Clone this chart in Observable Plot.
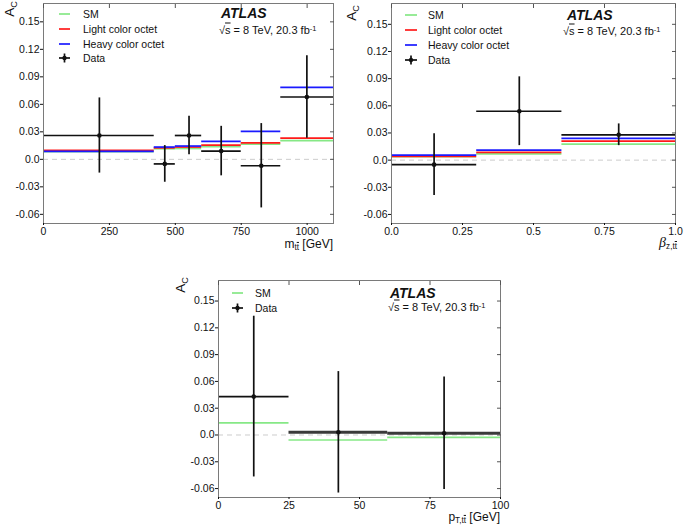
<!DOCTYPE html>
<html><head><meta charset="utf-8">
<script src="https://cdn.jsdelivr.net/npm/d3@7"></script>
<script src="https://cdn.jsdelivr.net/npm/@observablehq/plot@0.6"></script>
<style>
body{margin:0;background:#fff;}
#wrap{position:relative;width:685px;height:525px;overflow:hidden;font-family:"Liberation Sans",Arial,Helvetica,sans-serif;color:#111;}
.abs{position:absolute;white-space:nowrap;line-height:1;}
.sb{font-size:0.68em;position:relative;top:0.3em;}
.sp{font-size:0.68em;position:relative;top:-0.45em;}
.ol{text-decoration:overline;}
</style></head><body><div id="wrap"></div>
<script>
// ---- data: m_tt ----
const mttEdges = [0, 420, 500, 600, 750, 900, 1100];
const mttCenters = [212, 460, 552, 674, 826, 999];
const mttData = [0.026, -0.005, 0.026, 0.009, -0.007, 0.068];
const mttErr = [0.041, 0.020, 0.021, 0.027, 0.046, 0.045];
const mttSM = [0.0085, 0.0115, 0.0118, 0.0138, 0.0165, 0.0205];
const mttLight = [0.0098, 0.0125, 0.0134, 0.0155, 0.0180, 0.0232];
const mttHeavy = [0.0086, 0.0134, 0.0145, 0.0196, 0.0305, 0.0786];
const mttTicks = [0, 250, 500, 750, 1000];
const mttTickLabels = ["0", "250", "500", "750", "1000"];

// ---- data: beta_z,tt ----
const betaEdges = [0, 0.3, 0.6, 1.0];
const betaCenters = [0.15, 0.45, 0.80];
const betaData = [-0.005, 0.054, 0.028];
const betaErr = [0.034, 0.038, 0.012];
const betaSM = [0.0038, 0.0068, 0.0176];
const betaLight = [0.0041, 0.0085, 0.0210];
const betaHeavy = [0.0055, 0.0110, 0.0240];
const betaTicks = [0, 0.25, 0.5, 0.75, 1.0];
const betaTickLabels = ["0.0", "0.25", "0.5", "0.75", "1.0"];

// ---- data: pT,tt ----
const ptEdges = [0, 25, 60, 100];
const ptCenters = [12.5, 42.5, 80];
const ptData = [0.043, 0.003, 0.002];
const ptErr = [0.090, 0.068, 0.063];
const ptSM = [0.0135, -0.0056, -0.0027];
const ptTicks = [0, 25, 50, 75, 100];
const ptTickLabels = ["0", "25", "50", "75", "100"];

// ---- y axis ----
const acTicks = [-0.06, -0.03, 0, 0.03, 0.06, 0.09, 0.12, 0.15];
const acTickLabels = ["-0.06", "-0.03", "0.0", "0.03", "0.06", "0.09", "0.12", "0.15"];

const colSM = "#86e886", colLight = "#ff1a1a", colHeavy = "#1a1aff", colData = "#111";

const wrap = document.getElementById("wrap");

function drawPanel(o) {
  const bins = o.values.map((v, i) => ({lo: o.edges[i], hi: o.edges[i + 1], xc: o.centers[i], v, e: o.errors[i], i}));
  const marks = [Plot.ruleY([0], {stroke: "#cccccc", strokeDasharray: "5,4", strokeWidth: 1})];
  o.models.forEach(m => {
    const segs = m.values.map((v, i) => ({lo: o.edges[i], hi: o.edges[i + 1], v}));
    marks.push(Plot.ruleY(segs, {y: "v", x1: "lo", x2: "hi", stroke: m.color, strokeWidth: 1.7}));
  });
  const thin = bins.filter(d => !(o.thick && d.i > 0));
  const thick = bins.filter(d => (o.thick && d.i > 0));
  marks.push(Plot.ruleY(thin, {y: "v", x1: "lo", x2: "hi", stroke: colData, strokeWidth: 1.7}));
  if (thick.length) marks.push(Plot.ruleY(thick, {y: "v", x1: "lo", x2: "hi", stroke: "#3a3a3a", strokeWidth: 3}));
  marks.push(Plot.ruleX(bins, {x: "xc", y1: d => d.v - d.e, y2: d => d.v + d.e, stroke: colData, strokeWidth: 1.7}));
  marks.push(Plot.dot(bins, {x: "xc", y: "v", r: 2.3, fill: colData}));
  marks.push(Plot.frame({stroke: "#7a7a7a", strokeWidth: 1}));
  marks.push(Plot.axisX({ticks: o.xTicks, tickFormat: d => o.xTickLabels[o.xTicks.indexOf(d)], tickSize: 2, tickPadding: 2, fontSize: 10.5, label: null}));
  marks.push(Plot.axisX({anchor: "top", ticks: o.xTicks, tickFormat: () => "", tickSize: -4, label: null, stroke: "#555"}));
  marks.push(Plot.axisY({ticks: acTicks, tickFormat: d => acTickLabels[acTicks.indexOf(d)], tickSize: 3, tickPadding: 1, fontSize: 10.5, label: null}));
  marks.push(Plot.axisY({anchor: "right", ticks: acTicks, tickFormat: () => "", tickSize: -4, label: null, stroke: "#555"}));
  const svg = Plot.plot({
    width: o.width, height: o.height,
    marginLeft: o.ml, marginRight: o.mr, marginTop: o.mt, marginBottom: o.mb,
    x: {domain: o.xDomain},
    y: {domain: o.yDomain},
    style: {fontFamily: '"Liberation Sans", Arial, sans-serif', color: "#111", background: "transparent", overflow: "visible"},
    marks
  });
  const d = document.createElement("div");
  d.className = "abs";
  d.style.left = o.left + "px"; d.style.top = o.top + "px";
  d.appendChild(svg);
  wrap.appendChild(d);
}

function addText(html, x, y, style, anchorRight) {
  const d = document.createElement("div");
  d.className = "abs";
  if (anchorRight) d.style.right = (685 - x) + "px"; else d.style.left = x + "px";
  d.style.top = y + "px";
  d.style.transform = "translateY(-50%)";
  Object.assign(d.style, style || {});
  d.innerHTML = html;
  wrap.appendChild(d);
}

function addYLabel(x, y) {
  const d = document.createElement("div");
  d.className = "abs";
  d.style.left = x + "px"; d.style.top = y + "px";
  d.style.fontSize = "13.5px";
  d.style.transform = "translate(-50%,-50%) rotate(-90deg)";
  d.innerHTML = 'A<span class="sb">C</span>';
  wrap.appendChild(d);
}

function addLegend(x0, x1, tx, ys, entries) {
  const ns = "http://www.w3.org/2000/svg";
  entries.forEach((e, k) => {
    const y = ys[k];
    const s = document.createElementNS(ns, "svg");
    s.setAttribute("width", 20); s.setAttribute("height", 14);
    s.style.position = "absolute"; s.style.left = (x0 - 2) + "px"; s.style.top = (y - 7) + "px";
    const w = x1 - x0;
    if (e.data) {
      s.innerHTML = `<line x1="2" x2="${2 + w}" y1="7" y2="7" stroke="${colData}" stroke-width="1.7"/>` +
        `<line x1="${2 + w / 2}" x2="${2 + w / 2}" y1="2.5" y2="11.5" stroke="${colData}" stroke-width="1.7"/>` +
        `<circle cx="${2 + w / 2}" cy="7" r="2.2" fill="${colData}"/>`;
    } else {
      s.innerHTML = `<line x1="2" x2="${2 + w}" y1="7" y2="7" stroke="${e.color}" stroke-width="1.7"/>`;
    }
    wrap.appendChild(s);
    addText(e.label, tx, y, {fontSize: "10.5px"});
  });
}

function addAtlas(x, y, x2, y2) {
  addText("ATLAS", x, y, {fontSize: "14px", fontWeight: "bold", fontStyle: "italic"});
  addText('√<span class="ol">s</span> = 8 TeV, 20.3 fb<span class="sp">-1</span>', x2, y2, {fontSize: "11px"});
}

// Panel 1: m_tt
drawPanel({left: 0, top: 0, width: 340, height: 250, ml: 43, mr: 7, mt: 3, mb: 27,
  xDomain: [0, 1100], yDomain: [-0.07, 0.17], xTicks: mttTicks, xTickLabels: mttTickLabels,
  edges: mttEdges, centers: mttCenters, values: mttData, errors: mttErr,
  models: [{values: mttSM, color: colSM}, {values: mttLight, color: colLight}, {values: mttHeavy, color: colHeavy}]});
// Panel 2: beta
drawPanel({left: 340, top: 0, width: 345, height: 250, ml: 51, mr: 10, mt: 3, mb: 27,
  xDomain: [0, 1], yDomain: [-0.07, 0.173], xTicks: betaTicks, xTickLabels: betaTickLabels,
  edges: betaEdges, centers: betaCenters, values: betaData, errors: betaErr,
  models: [{values: betaSM, color: colSM}, {values: betaLight, color: colLight}, {values: betaHeavy, color: colHeavy}]});
// Panel 3: pT
drawPanel({left: 170, top: 255, width: 340, height: 270, ml: 48, mr: 10, mt: 25, mb: 28,
  xDomain: [0, 100], yDomain: [-0.07, 0.173], xTicks: ptTicks, xTickLabels: ptTickLabels,
  edges: ptEdges, centers: ptCenters, values: ptData, errors: ptErr, thick: true,
  models: [{values: ptSM, color: colSM}]});

// y labels
addYLabel(10, 9);
addYLabel(352, 13);
addYLabel(181, 285);

// x labels
const tt = 't<span class="ol">t</span>';
addText('m<span class="sb">' + tt + '</span> [GeV]', 333, 244, {fontSize: "12px"}, true);
addText('<i style="font-family:\'Liberation Serif\',serif;font-size:14px">β</i><span class="sb">z,' + tt + '</span>', 677, 243, {fontSize: "12px"}, true);
addText('p<span class="sb">T,' + tt + '</span> [GeV]', 500, 517, {fontSize: "12px"}, true);

// legends
const lg4 = [
  {label: "SM", color: colSM},
  {label: "Light color octet", color: colLight},
  {label: "Heavy color octet", color: colHeavy},
  {label: "Data", data: true}
];
addLegend(59, 70, 83, [14, 29, 43.5, 58], lg4);
addLegend(405, 417, 428, [15, 30, 45, 60], lg4);
addLegend(232, 243, 255, [293, 308], [{label: "SM", color: colSM}, {label: "Data", data: true}]);

// ATLAS labels
addAtlas(221, 13, 219, 30);
addAtlas(567, 15, 563, 31);
addAtlas(390, 293, 388, 307);
</script></body></html>
